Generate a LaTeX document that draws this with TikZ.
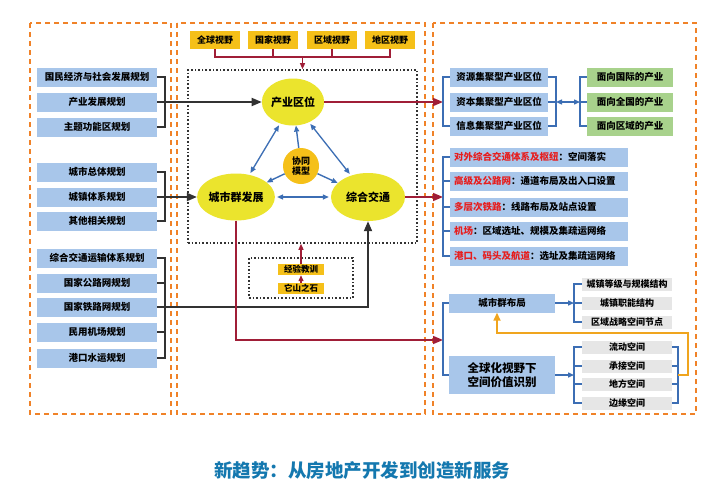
\documentclass[tikz,border=0pt]{standalone}
\usepackage{fontspec}
\setmainfont{Noto Sans CJK SC}
\usetikzlibrary{arrows.meta,shapes.geometric}
\definecolor{lb}{RGB}{168,198,234}
\definecolor{gr}{RGB}{168,210,140}
\definecolor{gy}{RGB}{230,230,230}
\definecolor{dk}{RGB}{50,50,50}
\definecolor{rd}{RGB}{160,30,55}
\definecolor{bl}{RGB}{60,110,180}
\definecolor{og}{RGB}{240,130,40}
\definecolor{og2}{RGB}{240,165,30}
\definecolor{gold}{RGB}{245,192,25}
\definecolor{yel}{RGB}{235,228,45}
\definecolor{ttl}{RGB}{20,120,175}
\definecolor{tr}{RGB}{230,30,30}
\begin{document}
\begin{tikzpicture}[x=1pt,y=-1pt,
  panel/.style={draw=og,line width=2.2pt,dash pattern=on 5pt off 4pt},
  dotbox/.style={draw=dk,line width=1.6pt,dash pattern=on 1.6pt off 2pt,inner sep=0pt},
  lbox/.style={fill=lb,minimum width=120pt,minimum height=19pt,inner sep=0pt,font=\bfseries\fontsize{9.5}{11}\selectfont},
  rbox/.style={fill=lb,minimum width=98pt,minimum height=19pt,inner sep=0pt,font=\bfseries\fontsize{9.5}{11}\selectfont},
  gbox/.style={fill=gr,minimum width=86pt,minimum height=19pt,inner sep=0pt,font=\bfseries\fontsize{9.5}{11}\selectfont},
  tbox/.style={fill=lb,text width=170pt,inner xsep=4pt,minimum height=19pt,inner ysep=0pt,align=left,font=\bfseries\fontsize{9.5}{11}\selectfont},
  sbox/.style={fill=gy,minimum width=90pt,minimum height=13pt,inner sep=0pt,font=\bfseries\fontsize{9}{10}\selectfont},
  vbox/.style={fill=gold,minimum width=50pt,minimum height=18pt,inner sep=0pt,font=\bfseries\fontsize{9}{10}\selectfont},
  xbox/.style={fill=gold,minimum width=46pt,minimum height=11pt,inner sep=0pt,font=\bfseries\fontsize{8.5}{9}\selectfont},
  ell/.style={ellipse,fill=yel,inner sep=0pt,font=\bfseries\fontsize{11}{12}\selectfont},
  dkline/.style={draw=dk,line width=1.5pt},
  dkarrow/.style={draw=dk,line width=1.8pt,-{Triangle[length=10pt,width=8pt]}},
  rdline/.style={draw=rd,line width=1.4pt},
  rdarrow/.style={draw=rd,line width=1.6pt,-{Triangle[length=10pt,width=8pt]}},
  rdsmall/.style={draw=rd,line width=1.2pt,-{Triangle[length=6pt,width=5pt]}},
  blline/.style={draw=bl,line width=1.4pt},
  blarrow/.style={draw=bl,line width=1.4pt,-{Triangle[length=6pt,width=5pt]}},
  blboth/.style={draw=bl,line width=1.3pt,{Triangle[length=6pt,width=5pt]}-{Triangle[length=6pt,width=5pt]}},
  ogarrow/.style={draw=og2,line width=1.6pt,-{Triangle[length=8pt,width=7pt]}}
]
\useasboundingbox (0,0) rectangle (722,490);
\fill[white] (0,0) rectangle (722,490);

% panels
\draw[panel] (30,23) rectangle (171,414);
\draw[panel] (177,23) rectangle (425,414);
\draw[panel] (433,23) rectangle (696,414);

% left boxes
\node[lbox] (p1) at (97,77) {国民经济与社会发展规划};
\node[lbox] (p2) at (97,102) {产业发展规划};
\node[lbox] (p3) at (97,127) {主题功能区规划};
\node[lbox] (q1) at (97,172) {城市总体规划};
\node[lbox] (q2) at (97,197) {城镇体系规划};
\node[lbox] (q3) at (97,221) {其他相关规划};
\node[lbox] (c1) at (97,258) {综合交通运输体系规划};
\node[lbox] (c2) at (97,283) {国家公路网规划};
\node[lbox] (c3) at (97,307) {国家铁路网规划};
\node[lbox] (c4) at (97,332) {民用机场规划};
\node[lbox] (c5) at (97,358) {港口水运规划};

% middle
\node[dotbox,minimum width=229pt,minimum height=173pt] (dbox) at (302.5,156.5) {};
\node[dotbox,minimum width=104pt,minimum height=40pt] (sdb) at (301,278) {};
\node[vbox] (v1) at (215,40) {全球视野};
\node[vbox] (v2) at (273,40) {国家视野};
\node[vbox] (v3) at (332,40) {区域视野};
\node[vbox] (v4) at (390,40) {地区视野};
\node[ell,minimum width=58pt,minimum height=47pt] (cy) at (293,102) {产业区位};
\node[ell,minimum width=73pt,minimum height=47pt] (cs) at (236,197) {城市群发展};
\node[ell,minimum width=74pt,minimum height=48pt] (zt) at (368,197) {综合交通};
\node[circle,fill=gold,minimum size=36pt,inner sep=0pt,align=center,font=\bfseries\fontsize{9}{10.5}\selectfont] (xt) at (301,166) {协同\\模型};
\node[xbox] (jy) at (301,269.5) {经验教训};
\node[xbox] (ts) at (301,288.5) {它山之石};

% right boxes
\node[rbox] (r1) at (499,77) {资源集聚型产业区位};
\node[rbox] (r2) at (499,102) {资本集聚型产业区位};
\node[rbox] (r3) at (499,126) {信息集聚型产业区位};
\node[gbox] (g1) at (630,77) {面向国际的产业};
\node[gbox] (g2) at (630,102) {面向全国的产业};
\node[gbox] (g3) at (630,126) {面向区域的产业};
\node[tbox] (t1) at (539,157) {{\color{tr}对外综合交通体系及枢纽}：空间落实};
\node[tbox] (t2) at (539,181) {{\color{tr}高级及公路网}：通道布局及出入口设置};
\node[tbox] (t3) at (539,207) {{\color{tr}多层次铁路}：线路布局及站点设置};
\node[tbox] (t4) at (539,231) {{\color{tr}机场}：区域选址、规模及集疏运网络};
\node[tbox] (t5) at (539,256) {{\color{tr}港口、码头及航道}：选址及集疏运网络};
\node[fill=lb,minimum width=106pt,minimum height=19pt,inner sep=0pt,font=\bfseries\fontsize{9.5}{11}\selectfont] (u1) at (502,303) {城市群布局};
\node[fill=lb,minimum width=106pt,minimum height=38pt,inner sep=0pt,align=center,font=\bfseries\fontsize{11.5}{14.5}\selectfont] (u2) at (502,375) {全球化视野下\\空间价值识别};
\node[sbox] (s1) at (627,284) {城镇等级与规模结构};
\node[sbox] (s2) at (627,303) {城镇职能结构};
\node[sbox] (s3) at (627,322) {区域战略空间节点};
\node[sbox] (w1) at (627,347) {流动空间};
\node[sbox] (w2) at (627,366) {承接空间};
\node[sbox] (w3) at (627,384) {地方空间};
\node[sbox] (w4) at (627,403) {边缘空间};

% title
\node[font=\bfseries\fontsize{18.5}{22}\selectfont,text=ttl] (title) at (362,471) {新趋势：从房地产开发到创造新服务};

% left brackets
\coordinate (ka) at (165,102);
\coordinate (kb) at (165,197);
\coordinate (kc) at (165,307);
\draw[dkline] (p1.east) -| (ka) |- (p3.east);
\draw[dkline] (p2.east) -- (ka);
\draw[dkline] (q1.east) -| (kb) |- (q3.east);
\draw[dkline] (q2.east) -- (kb);
\draw[dkline] (c1.east) -| (kc) |- (c5.east);
\draw[dkline] (c2.east) -- (c2.east -| kc);
\draw[dkline] (c3.east) -- (kc);
\draw[dkline] (c4.east) -- (c4.east -| kc);
\draw[dkarrow] (ka) -- (cy.west);
\draw[dkarrow] (kb) -- (cs.west);
\draw[dkarrow] (kc) -| (zt.south);

% top red
\coordinate (tl) at (302.5,57);
\draw[rdline] (v1.south) |- (tl) -| (v4.south);
\draw[rdline] (v2.south) -- (v2.south |- tl);
\draw[rdline] (v3.south) -- (v3.south |- tl);
\draw[rdsmall] (tl) -- (dbox.north);
\draw[rdsmall] (ts.north) -- (jy.south);
\draw[rdsmall] (jy.north) -- (jy.north |- dbox.south);

% blue triangle
\draw[blarrow] (xt) -- (cy);
\draw[blarrow] (xt) -- (cs);
\draw[blarrow] (xt) -- (zt);
\draw[blboth,shorten <=2pt,shorten >=2pt] (cy) -- (cs);
\draw[blboth,shorten <=2pt,shorten >=2pt] (cy) -- (zt);
\draw[blboth,shorten <=2pt,shorten >=2pt] (cs) -- (zt);

% red outflows
\coordinate (ra) at (443,102);
\coordinate (rb) at (443,197);
\coordinate (rc) at (443,340);
\draw[rdarrow] (cy.east) -- (ra);
\draw[rdarrow] (zt.east) -- (rb);
\draw[rdarrow] (cs.south) |- (rc);

% right group 1
\coordinate (rr) at (556,102);
\coordinate (gl) at (580,102);
\draw[blline] (r1.west) -| (ra) |- (r3.west);
\draw[blline] (r1.east) -| (rr) |- (r3.east);
\draw[blline] (r2.east) -- (rr);
\draw[blboth] (rr) -- (gl);
\draw[blline] (g1.west) -| (gl) |- (g3.west);
\draw[blline] (g2.west) -- (gl);

% right group 2
\draw[blline] (t1.west) -| (rb) |- (t5.west);
\draw[blline] (t2.west) -- (t2.west -| rb);
\draw[blline] (t3.west) -- (t3.west -| rb);
\draw[blline] (t4.west) -- (t4.west -| rb);

% right group 3
\coordinate (sa) at (574,303);
\coordinate (sw) at (574,375);
\coordinate (se) at (678,375);
\coordinate (o1) at (497,333);
\draw[blline] (u1.west) -| (rc) |- (u2.west);
\draw[blline] (s1.west) -| (sa) |- (s3.west);
\draw[blline] (s2.west) -- (sa);
\draw[blarrow] (u1.east) -- (sa);
\draw[blline] (w1.west) -| (sw) |- (w4.west);
\draw[blline] (w2.west) -- (w2.west -| sw);
\draw[blline] (w3.west) -- (w3.west -| sw);
\draw[blarrow] (u2.east) -- (sw);
\draw[blline] (w1.east) -| (se) |- (w4.east);
\draw[blline] (w2.east) -- (w2.east -| se);
\draw[blline] (w3.east) -- (w3.east -| se);
\draw[ogarrow] (se) -- ++(10,0) |- (o1) -- (o1 |- u1.south);
\end{tikzpicture}
\end{document}
